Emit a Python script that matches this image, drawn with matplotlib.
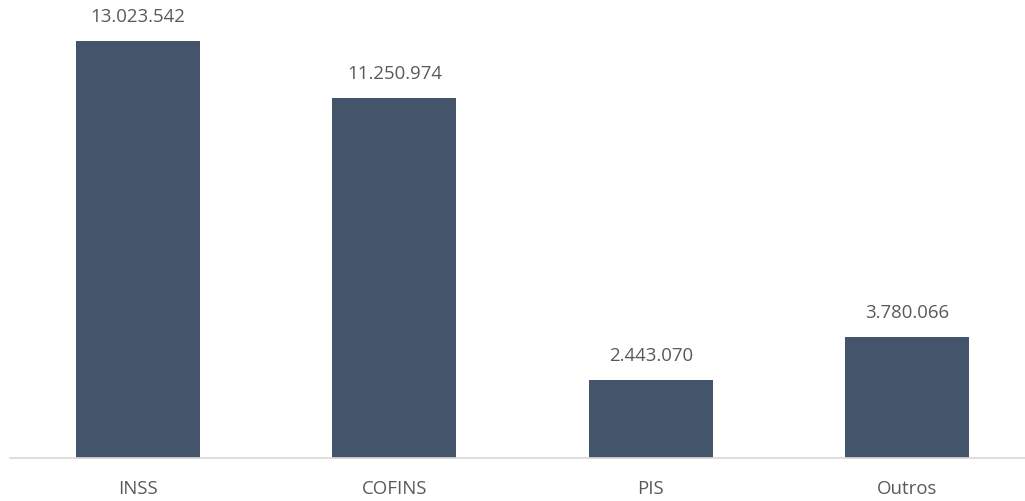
import matplotlib
matplotlib.use("Agg")
import matplotlib.pyplot as plt

categories = ["INSS", "COFINS", "PIS", "Outros"]
values = [13023542, 11250974, 2443070, 3780066]
labels = ["13.023.542", "11.250.974", "2.443.070", "3.780.066"]

plt.rcParams['font.family'] = ['Open Sans', 'DejaVu Sans']

W, H = 1025, 501
fig = plt.figure(figsize=(W/100, H/100), dpi=100)
base_y = 458
left_px = 10
spacing = 256.3
ax = fig.add_axes([left_px/W, (H-base_y)/H, 4*spacing/W, base_y/H])

bar_color = "#44546A"
text_color = "#595959"
x = list(range(len(categories)))
bars = ax.bar(x, values, width=0.484, color=bar_color)
ax.set_xlim(-0.5, 3.5)
ax.set_ylim(0, 13023542*458/417)

for xi, v, lab in zip(x, values, labels):
    ax.annotate(lab, (xi, v), xytext=(0, 10.5), textcoords="offset points",
                ha="center", va="bottom", fontsize=13.4, color=text_color)

ax.set_xticks(x)
ax.set_xticklabels(categories, fontsize=13.4, color=text_color)
ax.tick_params(axis='x', length=0, pad=16)
ax.set_yticks([])
for s in ["top", "right", "left"]:
    ax.spines[s].set_visible(False)
ax.spines["bottom"].set_color("#D9D9D9")
ax.spines["bottom"].set_linewidth(1.2)

fig.savefig("out.png", dpi=100)
